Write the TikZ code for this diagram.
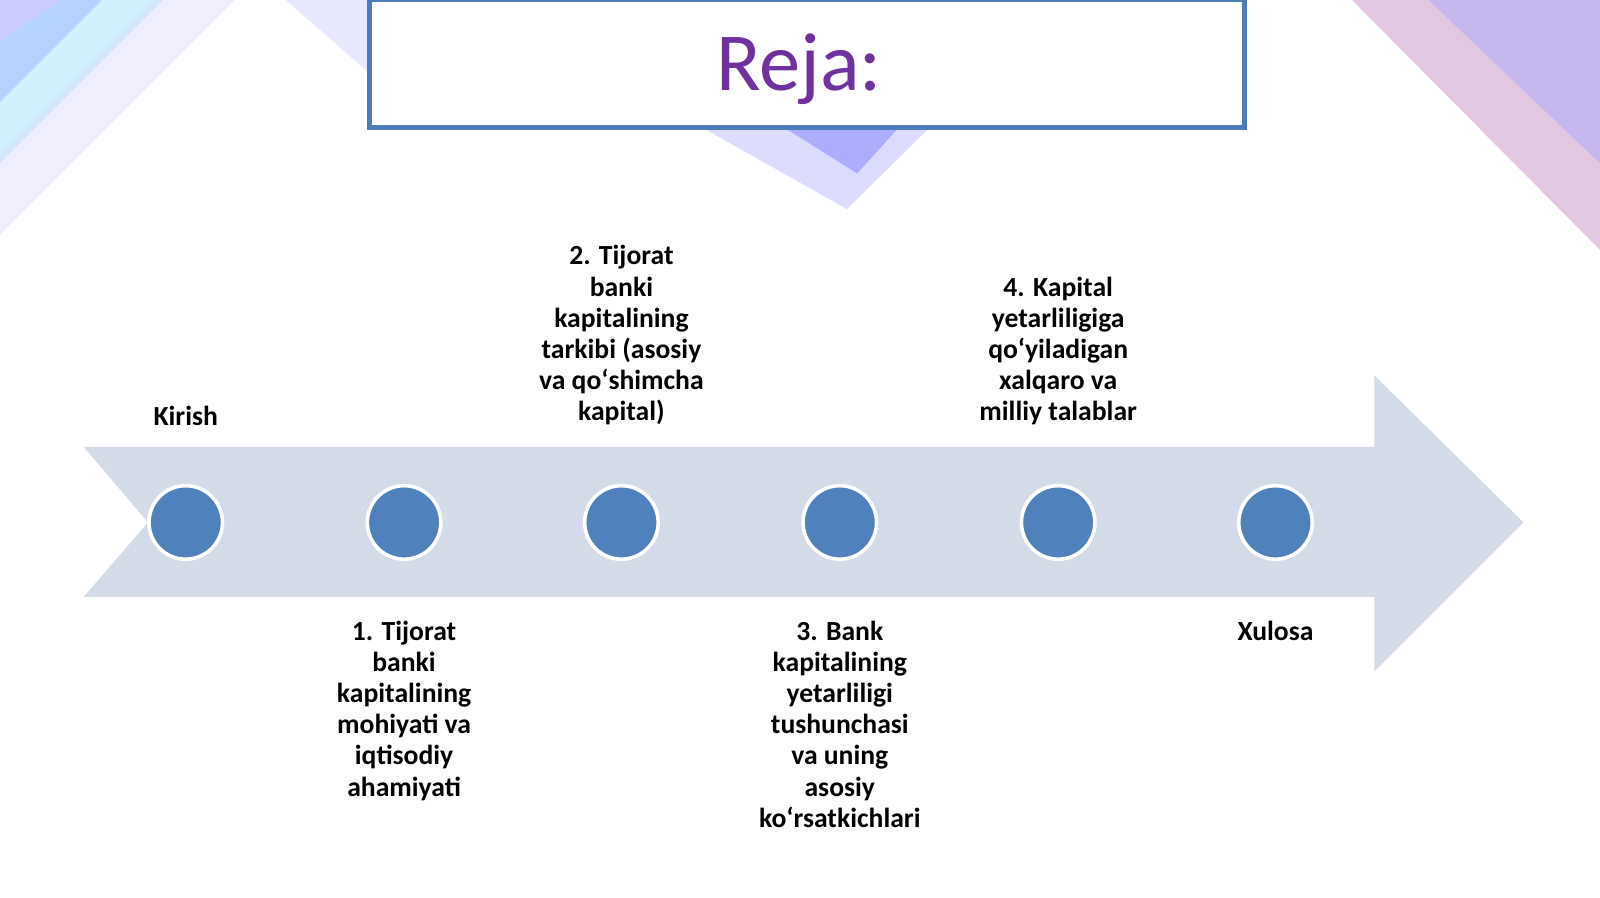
\documentclass[tikz,border=0pt]{standalone}
\usepackage{fontspec}
\setmainfont{Carlito}
\usetikzlibrary{positioning}
\definecolor{dotblue}{HTML}{4F81BD}
\definecolor{arrowgrey}{HTML}{D3DAE8}
\definecolor{titlepurple}{HTML}{7030A0}
\definecolor{frameblue}{HTML}{4A7EBB}
\begin{document}
\begin{tikzpicture}[
      x=0.01cm, y=-0.01cm,
      dot/.style={circle,fill=dotblue,draw=white,line width=1pt,minimum size=0.72cm,inner sep=0pt},
      lbl/.style={font=\bfseries\fontsize{7.7}{8.7}\selectfont,align=center,inner sep=1pt},
      deco/.style={opacity=0.45}
    ]
    \useasboundingbox (0,0) rectangle (1568,880);
    % Decorative background.
    \fill[deco,blue!45] (0,0) -- (100,0) -- (0,100) -- cycle;
    \fill[deco,blue!30!cyan!40] (0,40) -- (60,0) -- (160,0) -- (0,160) -- cycle;
    \fill[deco,blue!15] (0,150) -- (150,0) -- (230,0) -- (0,230) -- cycle;
    \fill[deco,blue!20] (280,0) -- (360,0) -- (360,70) -- cycle;
    \fill[deco,blue!30] (690,126) -- (910,126) -- (830,205) -- cycle;
    \fill[deco,blue!55] (770,126) -- (880,126) -- (840,170) -- cycle;
    \fill[deco,violet!50] (1325,0) -- (1568,0) -- (1568,245) -- cycle;
    \fill[deco,blue!35] (1400,0) -- (1568,0) -- (1568,160) -- cycle;
    % Title frame.
    \node[draw=frameblue,line width=1.5pt,fill=white,minimum width=8.57cm,minimum height=1.26cm] (title) at (791,62) {};
    \node[font=\fontsize{23}{27}\selectfont,text=titlepurple] (reja) at (783,68) {Reja:};
    % Timeline arrow.
    \fill[arrowgrey] (82,438) -- (1347,438) -- (1347,368) -- (1493,512) -- (1347,658)
          -- (1347,585) -- (82,585) -- (145,512) -- cycle;
    % Dots.
    \foreach \i/\x in {0/182,1/396,2/609,3/823,4/1037,5/1250}
      \node[dot] (d\i) at (\x,512) {};
    % Labels above.
    \node[lbl,anchor=south] (kirish) at (182,421) {Kirish};
    \node[lbl,anchor=south] (tarkib) at (609,421) {2. Tijorat\\banki\\kapitalining\\tarkibi (asosiy\\va qoʻshimcha\\kapital)};
    \node[lbl,anchor=south] (talab) at (1037,421) {4. Kapital\\yetarliligiga\\qoʻyiladigan\\xalqaro va\\milliy talablar};
    % Labels below.
    \node[lbl,anchor=north] (mohiyat) at (396,604) {1. Tijorat\\banki\\kapitalining\\mohiyati va\\iqtisodiy\\ahamiyati};
    \node[lbl,anchor=north] (yetarli) at (823,604) {3. Bank\\kapitalining\\yetarliligi\\tushunchasi\\va uning\\asosiy\\koʻrsatkichlari};
    \node[lbl,anchor=north] (xulosa) at (1250,604) {Xulosa};
\end{tikzpicture}
\end{document}
